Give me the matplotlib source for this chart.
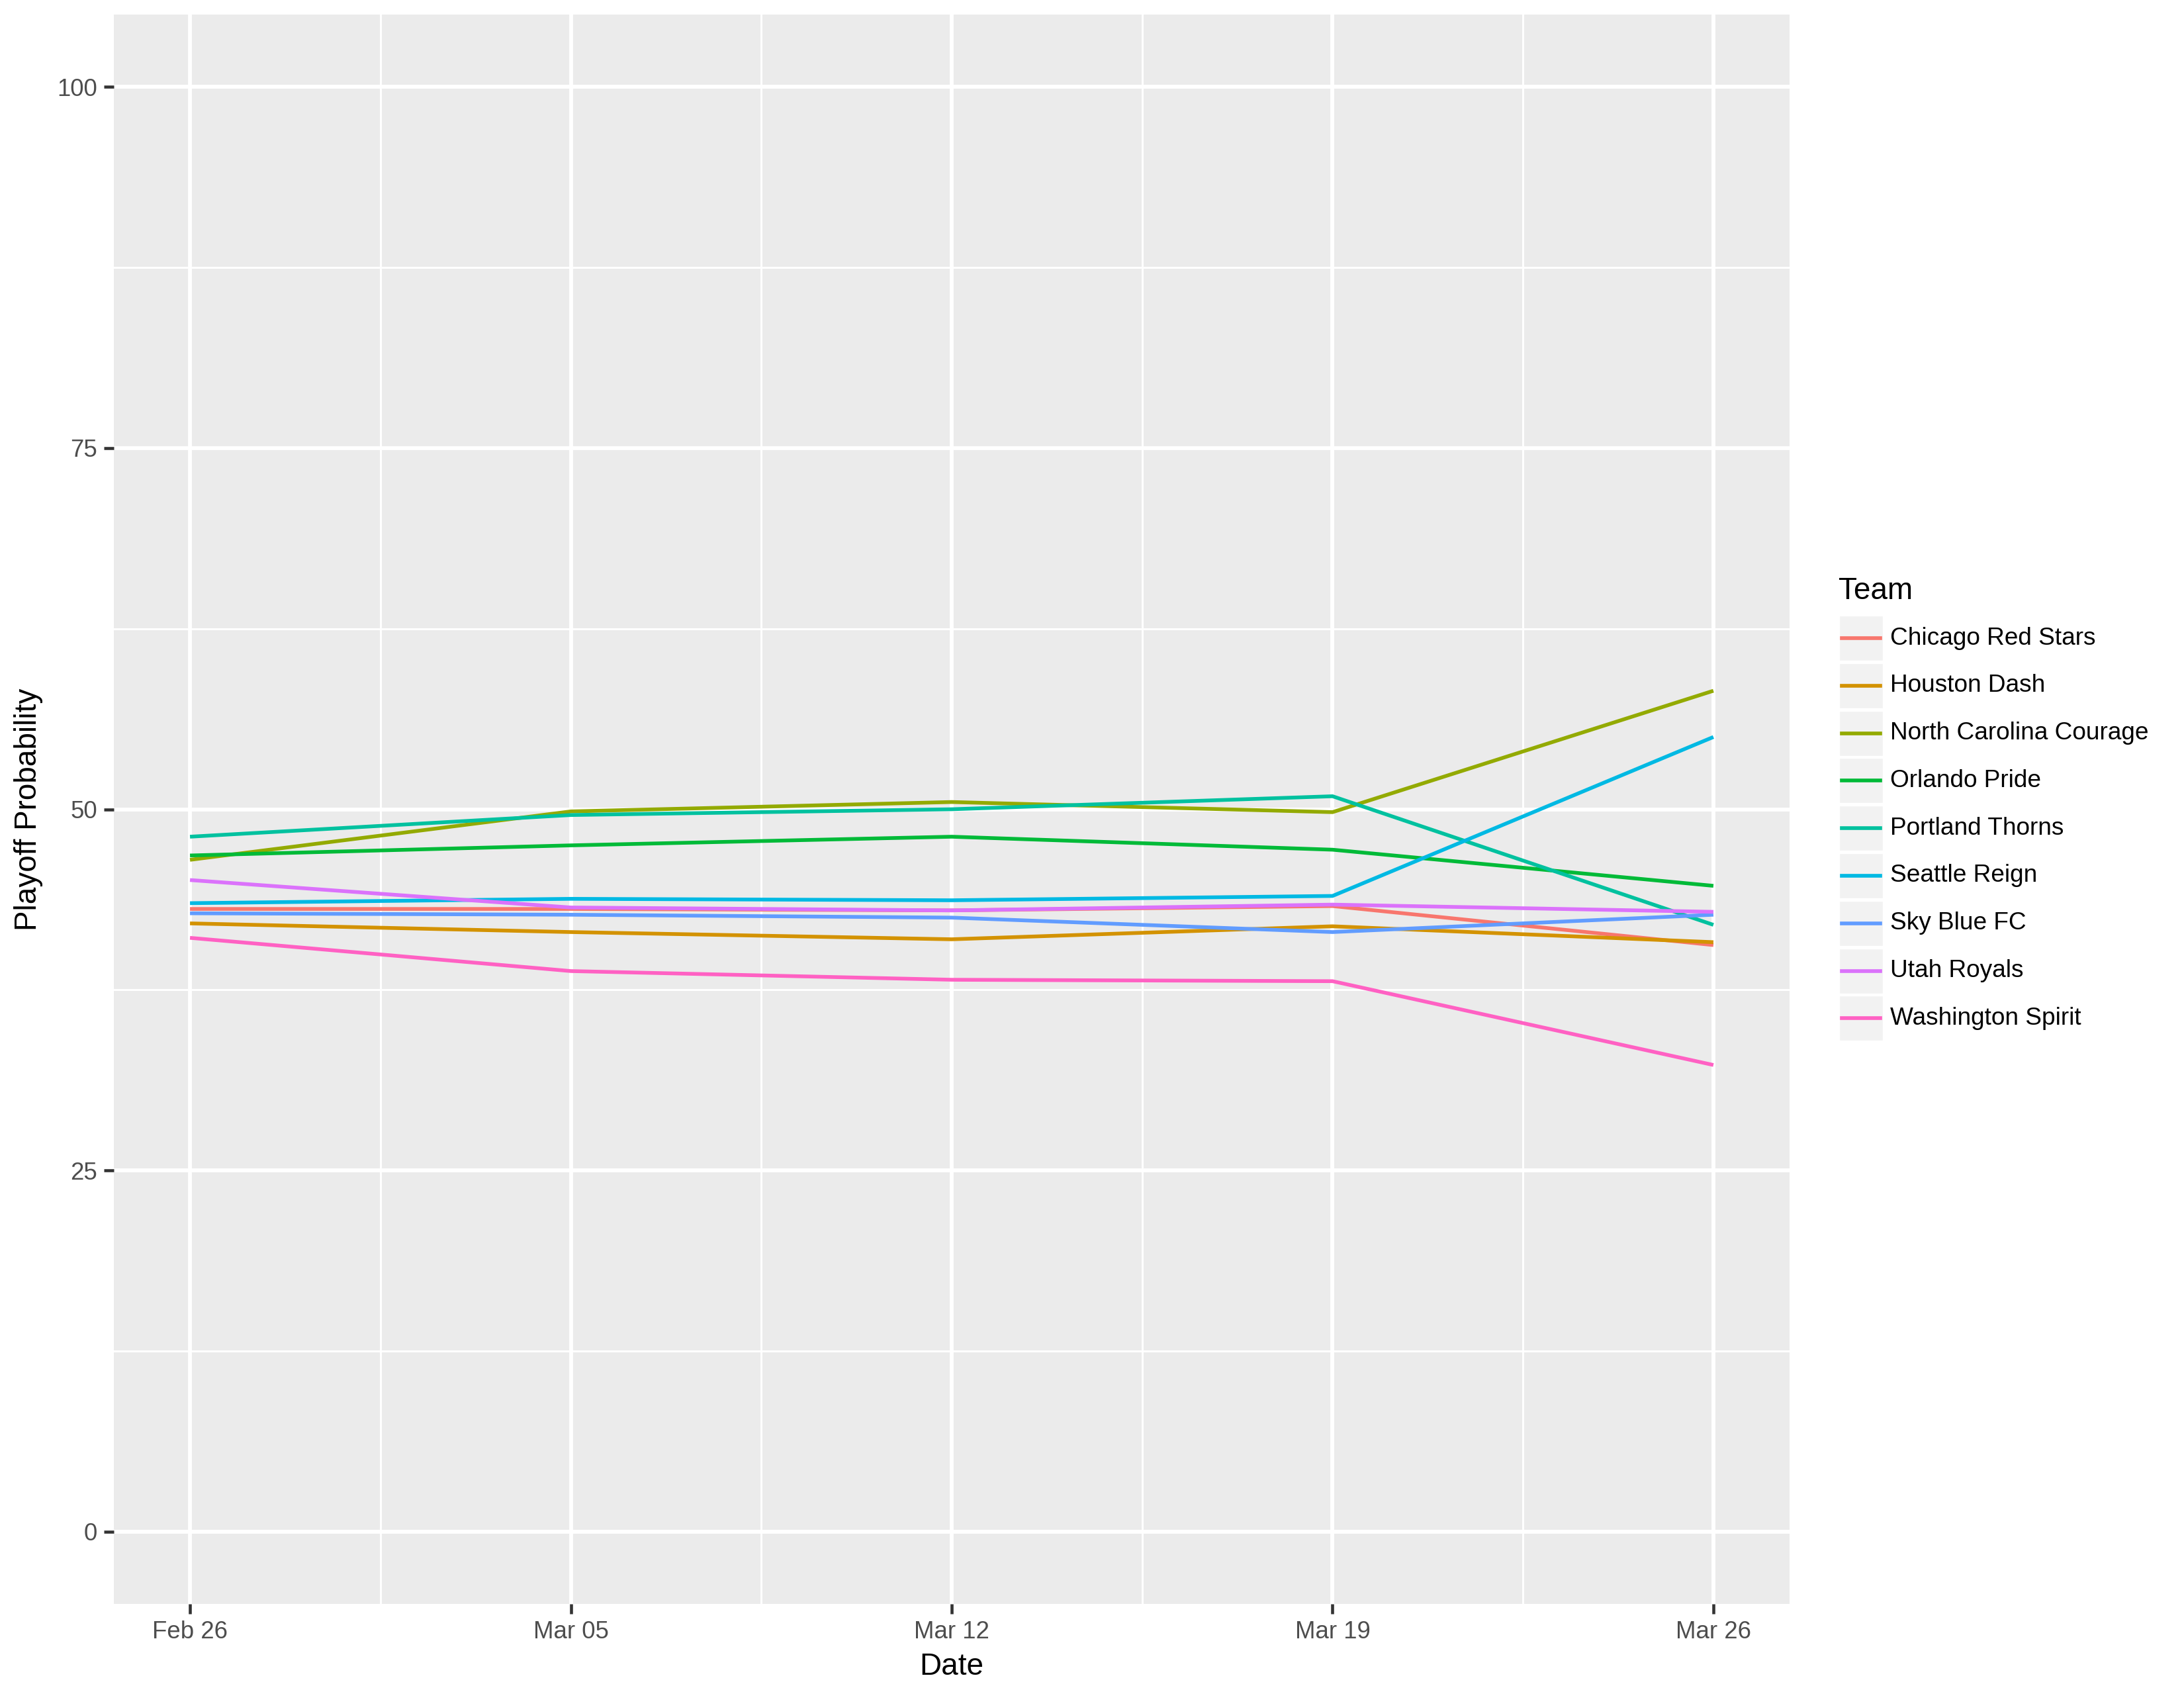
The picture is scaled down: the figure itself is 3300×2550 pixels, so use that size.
#!/usr/bin/env python3
# plot.py - NWSL playoff probability by date (ggplot-like look)
import matplotlib
matplotlib.use("Agg")
import matplotlib.pyplot as plt
import matplotlib.dates as mdates
from matplotlib.patches import Rectangle
from matplotlib.lines import Line2D
import datetime as dt

plt.rcParams['font.family'] = ['Liberation Sans', 'DejaVu Sans']

dates = [dt.date(2018, 2, 26), dt.date(2018, 3, 5), dt.date(2018, 3, 12),
         dt.date(2018, 3, 19), dt.date(2018, 3, 26)]
date_labels = ["Feb 26", "Mar 05", "Mar 12", "Mar 19", "Mar 26"]

teams = ["Chicago Red Stars", "Houston Dash", "North Carolina Courage",
         "Orlando Pride", "Portland Thorns", "Seattle Reign", "Sky Blue FC",
         "Utah Royals", "Washington Spirit"]

chicago = [43.1, 43.1, 43.0, 43.3, 40.6]
houston = [42.1, 41.5, 41.0, 41.9, 40.8]
north_carolina = [46.5, 49.85, 50.5, 49.8, 58.2]
orlando = [46.8, 47.5, 48.1, 47.2, 44.7]
portland = [48.1, 49.6, 50.0, 50.9, 42.0]
seattle = [43.5, 43.8, 43.7, 44.0, 55.0]
sky_blue = [42.8, 42.7, 42.5, 41.5, 42.7]
utah = [45.1, 43.2, 43.0, 43.4, 42.9]
washington = [41.1, 38.8, 38.2, 38.1, 32.3]

series = [chicago, houston, north_carolina, orlando, portland,
          seattle, sky_blue, utah, washington]

# ggplot2 default hue palette for 9 groups
colors = ["#F8766D", "#D39200", "#93AA00", "#00BA38", "#00C19F",
          "#00B9E3", "#619CFF", "#DB72FB", "#FF61C3"]

W, H = 3300, 2550
fig = plt.figure(figsize=(11, 8.5), dpi=300)


def fx(px):
    return px / W


def fy(py):
    return 1 - py / H


left, right, top, bottom = 172, 2704, 22, 2423
ax = fig.add_axes([fx(left), fy(bottom), fx(right - left), fy(top) - fy(bottom)])
ax.set_facecolor("#EBEBEB")
for s in ax.spines.values():
    s.set_visible(False)

x = mdates.date2num(dates)
span = x[-1] - x[0]
ax.set_xlim(x[0] - 0.05 * span, x[-1] + 0.05 * span)
ax.set_ylim(-5, 105)

# grid: minor first, then major
xminor = (x[:-1] + x[1:]) / 2
for v in xminor:
    ax.axvline(v, color="white", lw=0.7, zorder=0)
for v in [12.5, 37.5, 62.5, 87.5]:
    ax.axhline(v, color="white", lw=0.7, zorder=0)
for v in x:
    ax.axvline(v, color="white", lw=1.4, zorder=0)
for v in [0, 25, 50, 75, 100]:
    ax.axhline(v, color="white", lw=1.4, zorder=0)

for team, vals, c in zip(teams, series, colors):
    ax.plot(x, vals, color=c, lw=1.35, label=team, zorder=2,
            solid_joinstyle="round", solid_capstyle="butt")

ax.set_xticks(x)
ax.set_xticklabels(date_labels)
ax.set_yticks([0, 25, 50, 75, 100])
ax.tick_params(axis="both", length=3.5, width=1.1, color="#333333",
               labelsize=8.8, labelcolor="#4D4D4D", pad=2.5)
ax.set_xlabel("Date", fontsize=11, labelpad=3)
ax.set_ylabel("Playoff Probability", fontsize=11, labelpad=5)

# legend drawn in figure pixel coordinates, ggplot style
fig.text(fx(2778), fy(893), "Team", fontsize=11, ha="left", va="center")
key_x0, key_w, key_h = 2778, 68, 70
row0, row_step = 964, 71.8
for i, (team, c) in enumerate(zip(teams, colors)):
    cy = row0 + i * row_step
    fig.patches.append(Rectangle((fx(key_x0), fy(cy + key_h / 2)), fx(key_w), key_h / H,
                                 transform=fig.transFigure, facecolor="#F2F2F2",
                                 edgecolor="white", lw=0.8))
    fig.lines.append(Line2D([fx(key_x0 + 5), fx(key_x0 + key_w - 5)], [fy(cy), fy(cy)],
                            transform=fig.transFigure, color=c, lw=1.35))
    fig.text(fx(2856), fy(cy), team, fontsize=8.9, ha="left", va="center")

fig.savefig("out.png", dpi=300, facecolor="white")
